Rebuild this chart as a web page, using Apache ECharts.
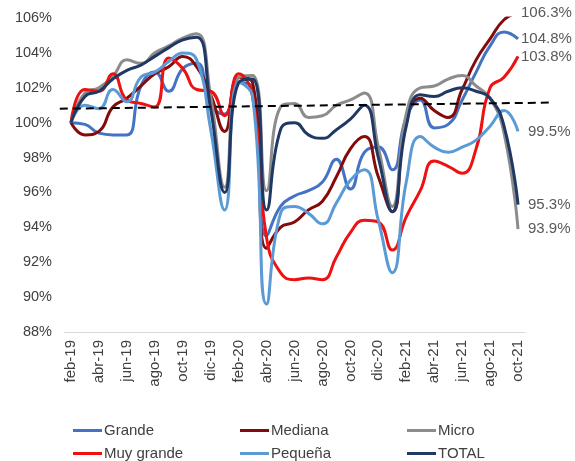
<!DOCTYPE html>
<html>
<head>
<meta charset="utf-8">
<script src="https://cdn.jsdelivr.net/npm/echarts@6/dist/echarts.min.js"></script>
<style>
	html, body { margin: 0; padding: 0; background: #fff; }
	#chart { width: 575px; height: 461px; }
</style>
</head>
<body>
<div id="chart"></div>
<script>
// meses feb-19 .. oct-21
let months = ['feb-19','mar-19','abr-19','may-19','jun-19','jul-19','ago-19','sep-19','oct-19','nov-19','dic-19',
	'ene-20','feb-20','mar-20','abr-20','may-20','jun-20','jul-20','ago-20','sep-20','oct-20','nov-20','dic-20',
	'ene-21','feb-21','mar-21','abr-21','may-21','jun-21','jul-21','ago-21','sep-21','oct-21'];

let grande = [100, 99.9, 99.4, 99.3, 99.3, 102.1, 102.9, 101.8, 103.1, 103.4, 101.0,
	100.5, 102.3, 102.0, 93.5, 95.2, 95.8, 96.1, 96.6, 97.9, 96.2, 98.3, 98.6,
	97.3, 100.3, 101.3, 99.7, 99.9, 101.3, 102.9, 104.4, 105.2, 104.8];
let mediana = [100, 99.3, 99.5, 100.9, 101.4, 102.1, 102.8, 103.2, 103.8, 103.2, 101.6,
	99.5, 102.6, 102.3, 92.8, 94.0, 94.3, 95.0, 95.5, 96.9, 98.5, 99.2, 96.9,
	94.9, 100.2, 101.4, 100.7, 100.3, 101.9, 103.6, 104.8, 105.9, 106.3];
let micro = [100, 101.7, 102.0, 102.65, 103.6, 103.4, 104.0, 104.4, 104.85, 105.1, 101.5,
	96.3, 102.6, 102.7, 96.1, 100.9, 101.1, 100.3, 100.4, 101.0, 101.3, 101.7, 98.6,
	95.2, 100.5, 102.0, 102.1, 102.5, 102.7, 102.1, 101.4, 99.4, 93.9];
let muyGrande = [100, 101.9, 101.8, 102.8, 101.3, 101.1, 100.9, 103.7, 103.1, 101.9, 101.8,
	100.4, 102.8, 101.5, 93.4, 91.4, 91.0, 91.1, 91.0, 92.3, 93.7, 94.4, 94.3,
	92.7, 94.6, 96.1, 97.8, 97.5, 97.1, 98.5, 102.0, 102.6, 103.8];
let pequena = [100, 101.0, 100.8, 101.9, 101.2, 102.6, 102.9, 103.5, 104.0, 103.6, 99.6,
	95.0, 102.3, 101.5, 89.6, 94.8, 95.2, 94.8, 94.2, 95.4, 96.7, 97.3, 94.4,
	91.4, 96.6, 99.2, 98.6, 98.3, 98.6, 99.0, 99.8, 100.7, 99.5];
let total = [100, 101.5, 101.8, 102.5, 103.0, 103.3, 103.8, 104.3, 104.75, 104.9, 100.8,
	96.0, 102.3, 102.5, 95.0, 99.6, 100.0, 99.3, 99.1, 99.6, 100.2, 101.0, 98.0,
	94.9, 99.8, 101.6, 101.5, 101.8, 102.0, 101.8, 101.4, 99.8, 95.3];

// linea de tendencia (posicion en meses, valor)
let trendX = [-0.8, 34.3];
let trendY = [100.8, 101.15];

let font = 'Liberation Sans, Arial, sans-serif';
let txtColor = '#404040';

// area del grafico
let W = 575, gLeft = 64, gRight = 50;
let band = (W - gLeft - gRight) / months.length;

function mkSeries(name, data, color, dist) {
	return {
		name: name,
		type: 'line',
		data: data,
		smooth: 0.5,
		symbol: 'none',
		lineStyle: { width: 3, color: color },
		itemStyle: { color: color },
		endLabel: {
			show: true,
			distance: dist,
			fontFamily: font,
			fontSize: 15,
			color: '#595959',
			formatter: function(p) {
				return p.value.toFixed(1) + '%';
			}
		}
	};
}

// una leyenda por serie, en 3 columnas x 2 filas
function mkLegend(name, left, top) {
	return {
		left: left,
		top: top,
		icon: 'rect',
		itemWidth: 29,
		itemHeight: 3,
		data: [name],
		textStyle: { fontFamily: font, fontSize: 15, lineHeight: 17, color: txtColor, padding: [0, 0, 0, -3] }
	};
}

let chart = echarts.init(document.getElementById('chart'));

let option = {
	animation: false,
	grid: [
		{ left: gLeft, right: gRight, top: 18, bottom: 129 },
		// rejilla ancha solo para la tendencia (sale del area)
		{ left: 0, right: 0, top: 18, bottom: 129 }
	],
	legend: [
		mkLegend('Grande', 68, 417),
		mkLegend('Mediana', 235, 417),
		mkLegend('Micro', 402, 417),
		mkLegend('Muy grande', 68, 440),
		mkLegend('Pequeña', 235, 440),
		mkLegend('TOTAL', 402, 440)
	],
	xAxis: [{
		type: 'category',
		data: months,
		boundaryGap: true,
		axisLine: { lineStyle: { color: '#d9d9d9', width: 1 } },
		axisTick: { interval: 1, length: 4, lineStyle: { color: '#d9d9d9' } },
		axisLabel: {
			interval: 1,
			rotate: 90,
			margin: 8,
			fontFamily: font,
			fontSize: 15,
			color: txtColor
		},
		splitLine: { show: false }
	}, {
		type: 'value',
		gridIndex: 1,
		show: false,
		min: -0.5 - gLeft / band,
		max: -0.5 + (W - gLeft) / band
	}],
	yAxis: [{
		type: 'value',
		min: 88,
		max: 106,
		interval: 2,
		axisLine: { show: false },
		axisTick: { show: false },
		splitLine: { show: false },
		axisLabel: {
			formatter: '{value}%',
			margin: 12,
			fontFamily: font,
			fontSize: 14.5,
			color: txtColor
		}
	}, {
		type: 'value',
		gridIndex: 1,
		show: false,
		min: 88,
		max: 106
	}],
	series: [
		mkSeries('Grande', grande, '#4472c4', 3),
		mkSeries('Mediana', mediana, '#850a0a', 3),
		mkSeries('Micro', micro, '#8c8c8c', 10),
		mkSeries('Muy grande', muyGrande, '#ee1111', 3),
		mkSeries('Pequeña', pequena, '#5b9bd5', 10),
		mkSeries('TOTAL', total, '#1f3864', 10),
		{
			name: 'tendencia',
			type: 'line',
			xAxisIndex: 1,
			yAxisIndex: 1,
			data: trendX.map(function(x, i) { return [x, trendY[i]]; }),
			symbol: 'none',
			silent: true,
			lineStyle: { color: '#000', width: 2, type: [8, 5] },
			z: 5
		}
	]
};
chart.setOption(option);
</script>
</body>
</html>
